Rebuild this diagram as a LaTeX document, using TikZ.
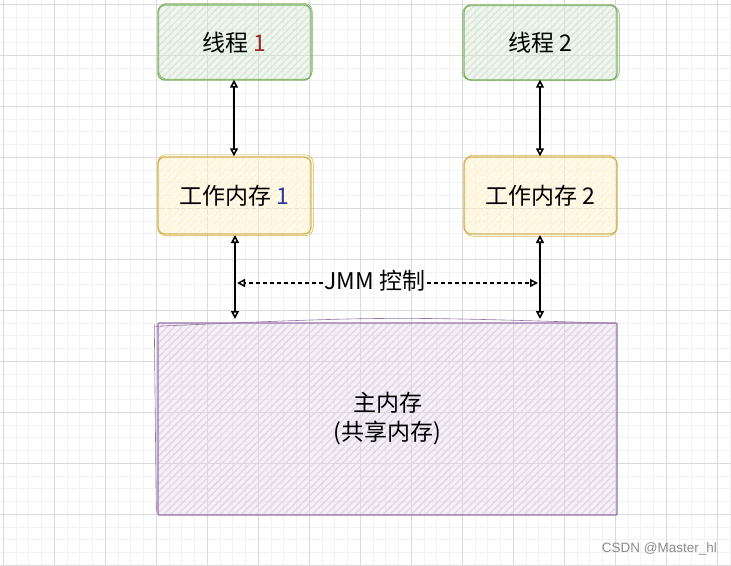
\documentclass[tikz,border=0pt]{standalone}
\usepackage{fontspec}
\setmainfont{Noto Sans CJK SC}
\newfontfamily\wmfont{Liberation Sans}
\usetikzlibrary{arrows.meta,patterns.meta,calc}
\definecolor{gminor}{HTML}{F2F2F2}
\definecolor{gmajor}{HTML}{DADADA}
\definecolor{gstroke}{HTML}{82B366}
\definecolor{gfill}{HTML}{D5E8D4}
\definecolor{ystroke}{HTML}{D6B656}
\definecolor{yfill}{HTML}{FFF2CC}
\definecolor{pstroke}{HTML}{9673A6}
\definecolor{pfill}{HTML}{E1D5E7}
\definecolor{digred}{HTML}{9A2A2A}
\definecolor{digblue}{HTML}{2A3A9A}
\tikzset{
  >={Triangle[open,length=8pt,width=8pt]},
  hatch/.style={preaction={fill=#1, fill opacity=0.35},
    pattern={Lines[angle=45,distance=5pt,line width=1.3pt]}, pattern color=#1},
  sbox/.style 2 args={draw=#1, hatch=#2, rounded corners=7pt, line width=1.4pt,
    inner sep=0pt, font=\fontsize{23}{29}\selectfont, align=center},
  sline/.style={draw=#1, line width=0.6pt, rounded corners=8pt},
  conn/.style={line width=1.6pt, <->, black},
  dconn/.style={line width=1.5pt, ->, black, dash pattern=on 4pt off 3pt},
}
\begin{document}
\begin{tikzpicture}[x=1pt,y=-1pt]
\useasboundingbox (0,0) rectangle (731,565);
\fill[white] (0,0) rectangle (731,565);
% grid
\foreach \i in {0,...,57} \draw[gminor, line width=0.8pt] ({3.3+12.75*\i},0) -- ({3.3+12.75*\i},565);
\foreach \i in {0,...,44} \draw[gminor, line width=0.8pt] (0,{4.3+12.75*\i}) -- (731,{4.3+12.75*\i});
\foreach \i in {0,...,14} \draw[gmajor, line width=0.9pt] ({3.3+51*\i},0) -- ({3.3+51*\i},565);
\foreach \i in {0,...,11} \draw[gmajor, line width=0.9pt] (0,{4.3+51*\i}) -- (731,{4.3+51*\i});
% boxes
\node[sbox={gstroke}{gfill}, minimum width=153pt, minimum height=75pt] (t1) at (234.5,42.5) {线程\ \textcolor{digred}{1}};
\node[sbox={gstroke}{gfill}, minimum width=153pt, minimum height=75pt] (t2) at (540.5,42.5) {线程\ 2};
\node[sbox={ystroke}{yfill}, minimum width=153pt, minimum height=77pt] (w1) at (234.5,195.5) {工作内存\ \textcolor{digblue}{1}};
\node[sbox={ystroke}{yfill}, minimum width=153pt, minimum height=77pt] (w2) at (540.5,195.5) {工作内存\ 2};
\node[sbox={pstroke}{pfill}, rounded corners=1pt, minimum width=459pt, minimum height=192pt] (m) at (387.5,419) {主内存\\(共享内存)};
% sketchy second outlines
\draw[sline=gstroke] ($(t1.north west)+(1.5,-1)$) rectangle ($(t1.south east)+(0.5,-1.5)$);
\draw[sline=gstroke] ($(t2.north west)+(-1,1.5)$) rectangle ($(t2.south east)+(1.5,-0.5)$);
\draw[sline=ystroke] ($(w1.north west)+(0.5,-1.5)$) rectangle ($(w1.south east)+(1.5,1)$);
\draw[sline=ystroke] ($(w2.north west)+(1.5,-1)$) rectangle ($(w2.south east)+(-1,1.5)$);
\draw[pstroke, line width=0.6pt] ($(m.north west)+(-2,4)$) .. controls ($(m.north)+(0,-6)$) .. ($(m.north east)+(-3,1)$);
\draw[pstroke, line width=0.6pt] ($(m.north west)+(-3,2)$) -- ($(m.south west)+(-1,-4)$);
% connectors
\draw[conn] ($(t1.south)+(-0.5,-1)$) -- ($(w1.north)+(-0.5,0)$);
\draw[conn] ($(t2.south)+(-0.5,-1)$) -- ($(w2.north)+(-0.5,0)$);
\coordinate (l1) at (235,235);
\coordinate (l2) at (235,319);
\coordinate (r1) at (540,235);
\coordinate (r2) at (540,319);
\draw[conn] (l1) -- (l2);
\draw[conn] (r1) -- (r2);
\node[font=\fontsize{23}{29}\selectfont, inner sep=1pt] (jmm) at (375,281) {JMM\ 控制};
\coordinate (dl) at (237,283);
\coordinate (dr) at (538,283);
\draw[dconn] (jmm.west |- dl) -- (dl);
\draw[dconn] (jmm.east |- dr) -- (dr);
% watermark
\node[font=\wmfont\fontsize{13.5}{16}\selectfont, text=black!45, anchor=east, inner sep=0pt] (wm) at (717,549) {CSDN @Master\_hl};
\end{tikzpicture}
\end{document}
